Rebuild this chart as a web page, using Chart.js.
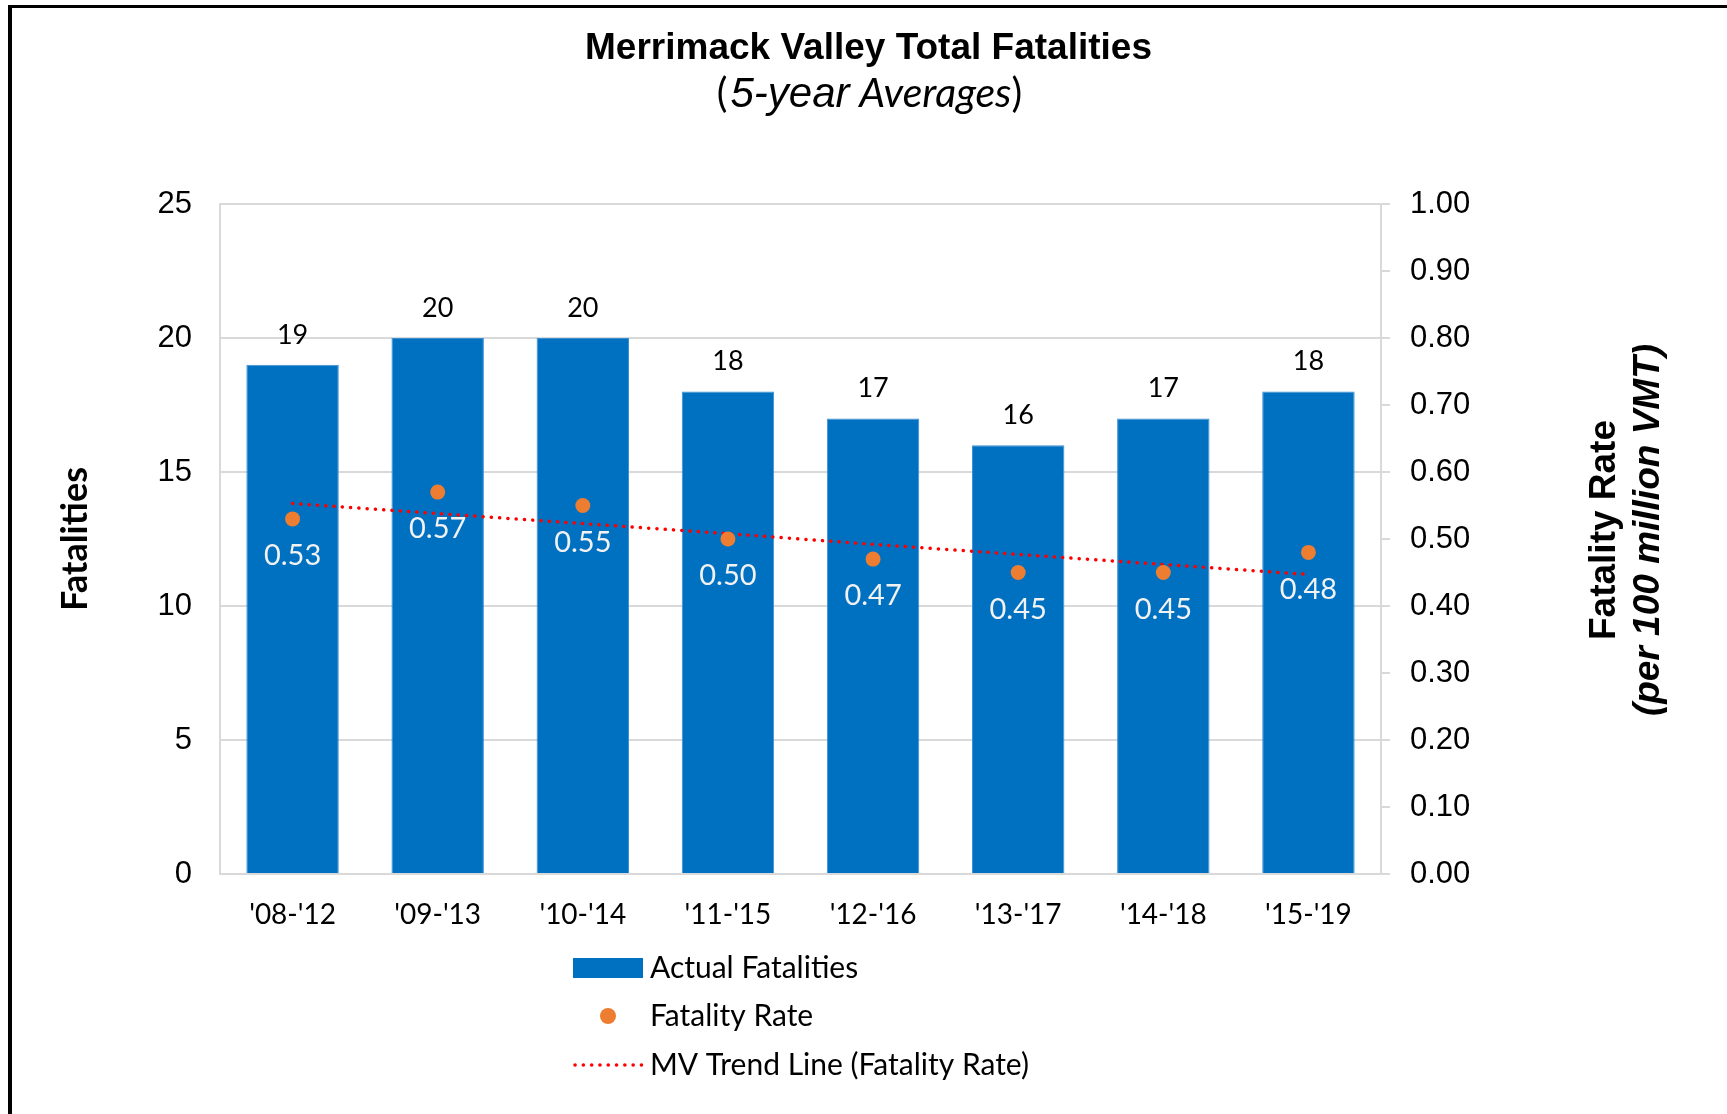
<!DOCTYPE html>
<html>
<head>
<meta charset="utf-8">
<title>Merrimack Valley Total Fatalities</title>
<script src="https://cdn.jsdelivr.net/npm/chart.js@4.4.1/dist/chart.umd.min.js"></script>
<style>
  html, body { margin: 0; padding: 0; background: #fff; overflow: hidden; }
  #wrap { position: relative; width: 1727px; height: 1114px; }
  #frame {
    position: absolute; left: 8px; top: 5px; right: -20px; bottom: -20px;
    border-left: 4px solid #000; border-top: 3px solid #000; pointer-events: none;
  }
</style>
</head>
<body>
<div id="wrap">
  <canvas id="chart1" width="1727" height="1114"></canvas>
  <div id="frame"></div>
</div>
<script>
"use strict";

// data
const periods = ["'08-'12", "'09-'13", "'10-'14", "'11-'15", "'12-'16", "'13-'17", "'14-'18", "'15-'19"];
const actualFatalities = [19, 20, 20, 18, 17, 16, 17, 18];
const fatalityRate = [0.53, 0.57, 0.55, 0.50, 0.47, 0.45, 0.45, 0.48];
const trendLine = [0.553, 0.538, 0.523, 0.508, 0.492, 0.477, 0.462, 0.447];
const fatalityTicks = [0, 5, 10, 15, 20, 25];
const rateTicks = [0, 0.1, 0.2, 0.3, 0.4, 0.5, 0.6, 0.7, 0.8, 0.9, 1.0];

const ARIAL = "'Liberation Sans', Arial, sans-serif";
const BODY = "Lato, 'Open Sans', sans-serif";
const BLUE = '#0070C0';
const ORANGE = '#ED7D31';
const GRID = '#d9d9d9';

// numbers on top of the bars and under the rate dots
const valueLabels = {
    id: 'valueLabels',
    afterDatasetsDraw(chart) {
        const ctx = chart.ctx;
        ctx.save();
        ctx.textAlign = 'center';
        ctx.textBaseline = 'middle';

        ctx.font = `27px ${BODY}`;
        ctx.fillStyle = '#000';
        chart.getDatasetMeta(0).data.forEach((bar, i) => {
            ctx.fillText(String(actualFatalities[i]), bar.x, bar.y - 30);
        });

        ctx.font = `29px ${BODY}`;
        ctx.fillStyle = '#f2f2f2';
        chart.getDatasetMeta(1).data.forEach((pt, i) => {
            ctx.fillText(fatalityRate[i].toFixed(2), pt.x, pt.y + 37);
        });
        ctx.restore();
    }
};

// "(5-year Averages)" mixes fonts, so it is drawn piece by piece
const subtitle = {
    id: 'subtitle',
    afterDraw(chart) {
        const ctx = chart.ctx;
        const parts = [
            ['(', `40px ${BODY}`],
            ['5-year', `italic 42px ${ARIAL}`],
            [' Averages', `italic 41px ${BODY}`],
            [')', `40px ${BODY}`],
        ];
        ctx.save();
        ctx.fillStyle = '#000';
        ctx.textBaseline = 'alphabetic';
        ctx.textAlign = 'left';
        let total = 0;
        const widths = parts.map(([t, f]) => { ctx.font = f; const w = ctx.measureText(t).width; total += w; return w; });
        let x = 868 - total / 2;
        parts.forEach(([t, f], i) => {
            ctx.font = f;
            ctx.fillText(t, x, 107);
            x += widths[i] + (i === 0 ? 3 : 0);
        });
        ctx.restore();
    }
};

// two-line right axis title, second line italic
const rightTitle = {
    id: 'rightTitle',
    afterDraw(chart) {
        const ctx = chart.ctx;
        const cy = (chart.chartArea.top + chart.chartArea.bottom) / 2 - 9;
        ctx.save();
        ctx.translate(0, cy);
        ctx.rotate(-Math.PI / 2);
        ctx.textAlign = 'center';
        ctx.textBaseline = 'middle';
        ctx.fillStyle = '#000';
        ctx.font = `bold 37px ${ARIAL}`;
        ctx.fillText('Fatality Rate', 0, 1605);
        ctx.font = `italic bold 37px ${ARIAL}`;
        ctx.fillText('(per 100 million VMT)', 0, 1649);
        ctx.restore();
    }
};

// legend with one entry per row, left aligned
const stackedLegend = {
    id: 'stackedLegend',
    afterDraw(chart) {
        const ctx = chart.ctx;
        const ds = chart.data.datasets;
        const base = chart.chartArea.bottom;
        const rows = [base + 94, base + 142, base + 191];
        const x0 = 573, x1 = 643, tx = 650;
        ctx.save();

        // bars
        ctx.fillStyle = ds[0].backgroundColor;
        ctx.fillRect(x0, rows[0] - 10, x1 - x0, 20);
        // dot
        ctx.beginPath();
        ctx.fillStyle = ds[1].pointBackgroundColor;
        ctx.arc((x0 + x1) / 2, rows[1], 8, 0, Math.PI * 2);
        ctx.fill();
        // dotted line
        ctx.beginPath();
        ctx.strokeStyle = ds[2].borderColor;
        ctx.lineWidth = ds[2].borderWidth;
        ctx.lineCap = 'round';
        ctx.setLineDash(ds[2].borderDash);
        ctx.moveTo(x0 + 2, rows[2]);
        ctx.lineTo(x1, rows[2]);
        ctx.stroke();

        ctx.setLineDash([]);
        ctx.font = `30px ${BODY}`;
        ctx.fillStyle = '#000';
        ctx.textAlign = 'left';
        ctx.textBaseline = 'middle';
        ds.forEach((d, i) => ctx.fillText(d.label, tx, rows[i]));
        ctx.restore();
    }
};

document.addEventListener("DOMContentLoaded", () => {

    const data = {
        labels: periods,
        datasets: [{
            type: 'bar',
            label: 'Actual Fatalities',
            data: actualFatalities,
            yAxisID: 'y',
            backgroundColor: BLUE,
            borderColor: '#3d8fd4',
            borderWidth: 1,
            barPercentage: 0.637,
            categoryPercentage: 1,
            order: 3,
        }, {
            type: 'line',
            label: 'Fatality Rate',
            data: fatalityRate,
            yAxisID: 'y1',
            showLine: false,
            pointRadius: 7.5,
            pointBackgroundColor: ORANGE,
            pointBorderWidth: 0,
            borderColor: ORANGE,
            order: 1,
        }, {
            type: 'line',
            label: 'MV Trend Line (Fatality Rate)',
            data: trendLine,
            yAxisID: 'y1',
            borderColor: '#ff0000',
            borderWidth: 3.5,
            borderDash: [0.1, 8.2],
            borderCapStyle: 'round',
            pointRadius: 0,
            fill: false,
            order: 2,
        }]
    };

    const config = {
        data: data,
        options: {
            responsive: false,
            animation: false,
            devicePixelRatio: 1,
            layout: { padding: { left: 10, right: 0, top: 0, bottom: 0 } },
            plugins: {
                legend: { display: false },
                tooltip: { enabled: false },
                title: {
                    display: true,
                    text: 'Merrimack Valley Total Fatalities',
                    color: '#000',
                    font: { family: ARIAL, size: 37, weight: 'bold', lineHeight: 1.2 },
                    padding: { top: 26.8, bottom: 132.8 },
                },
            },
            scales: {
                x: {
                    offset: true,
                    grid: { display: true, drawOnChartArea: false, drawTicks: false },
                    border: { display: true, color: GRID, width: 2 },
                    ticks: { color: '#000', padding: 24, font: { family: BODY, size: 28 } },
                    afterFit: (scale) => { scale.height = 240; },
                },
                y: {
                    position: 'left',
                    min: 0,
                    max: 25,
                    afterBuildTicks: (scale) => { scale.ticks = fatalityTicks.map(v => ({ value: v })); },
                    grid: { color: GRID, lineWidth: 2, drawTicks: false },
                    border: { display: true, color: GRID, width: 2 },
                    ticks: { color: '#000', padding: 28, font: { family: ARIAL, size: 31 } },
                    title: {
                        display: true,
                        text: 'Fatalities',
                        color: '#000',
                        font: { family: BODY, size: 36, weight: 'bold', lineHeight: 1.2 },
                        padding: { top: 43.4, bottom: 0 },
                    },
                    afterFit: (scale) => { scale.width = 210; },
                },
                y1: {
                    position: 'right',
                    min: 0,
                    max: 1,
                    afterBuildTicks: (scale) => { scale.ticks = rateTicks.map(v => ({ value: v })); },
                    grid: { drawOnChartArea: false, drawTicks: true, tickLength: 9, color: GRID, lineWidth: 2 },
                    border: { display: true, color: GRID, width: 2 },
                    ticks: {
                        color: '#000',
                        padding: 20,
                        font: { family: ARIAL, size: 31 },
                        callback: (v) => Number(v).toFixed(2),
                    },
                    afterFit: (scale) => { scale.width = 346; },
                },
            },
        },
        plugins: [valueLabels, subtitle, rightTitle, stackedLegend],
    };

    const myChart = new Chart(document.getElementById('chart1'), config);

}, { once: true });
</script>
</body>
</html>
